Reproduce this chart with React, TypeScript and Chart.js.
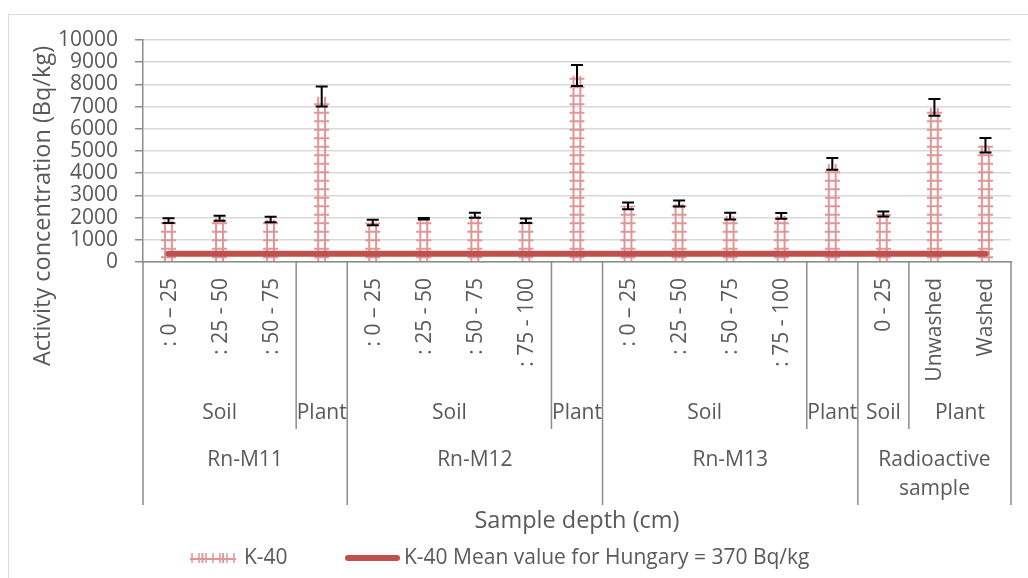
import React, { useEffect, useRef } from "react";
import { Chart, registerables } from "chart.js";

Chart.register(...registerables);

// ---- data ----
const categories = [
  ": 0 – 25", ": 25 - 50", ": 50 - 75", "",
  ": 0 – 25", ": 25 - 50", ": 50 - 75", ": 75 - 100", "",
  ": 0 – 25", ": 25 - 50", ": 50 - 75", ": 75 - 100", "",
  "0 - 25", "Unwashed", "Washed",
];
const k40Values = [1865, 1970, 1915, 7450, 1780, 1950, 2105, 1860, 8400, 2530, 2635, 2070, 2075, 4415, 2165, 6965, 5255];
const k40Errors = [110, 110, 120, 450, 120, 30, 110, 105, 470, 150, 135, 150, 130, 265, 110, 380, 325];
const hungaryMean = [370, 370, 370, 370, 370, 370, 370, 370, 370, 370, 370, 370, 370, 370, 370, 370, 370];
const typeLabels = ["Soil", "Plant", "Soil", "Plant", "Soil", "Plant", "Soil", "Plant"];
const typeSpans = [3, 1, 4, 1, 4, 1, 1, 2];
const siteLabels = [["Rn-M11"], ["Rn-M12"], ["Rn-M13"], ["Radioactive", "sample"]];
const siteSpans = [4, 5, 5, 3];
const yTickMin = 0;
const yTickMax = 10000;
const yTickStep = 1000;
const seriesName = "K-40";
const meanName = "K-40 Mean value for Hungary = 370 Bq/kg";
const xTitle = "Sample depth (cm)";
const yTitle = "Activity concentration (Bq/kg)";

const FONT = '"Open Sans", "Noto Sans", sans-serif';
const TEXT = "#595959";
const AXIS = "#8c8c8c";
const PATTERN = "#e09696";
const RED = "#c0504d";

function drawPatternRect(ctx: CanvasRenderingContext2D, left: number, top: number, w: number, bottom: number) {
  ctx.save();
  ctx.beginPath();
  ctx.rect(left, top, w, bottom - top);
  ctx.clip();
  ctx.strokeStyle = PATTERN;
  ctx.lineWidth = 2;
  ctx.beginPath();
  const v1 = left + w * 0.27;
  const v2 = left + w * 0.72;
  ctx.moveTo(v1, top); ctx.lineTo(v1, bottom);
  ctx.moveTo(v2, top); ctx.lineTo(v2, bottom);
  for (let y = bottom - 4; y > top; y -= 8.5) {
    ctx.moveTo(left, y); ctx.lineTo(left + w, y);
  }
  ctx.stroke();
  ctx.restore();
}

const customPlugin = {
  id: "custom",
  afterDatasetDraw(chart: any, args: any) {
    if (args.index !== 0) return;
    const ctx = chart.ctx as CanvasRenderingContext2D;
    const meta = chart.getDatasetMeta(0);
    meta.data.forEach((bar: any) => {
      const w = bar.width;
      drawPatternRect(ctx, bar.x - w / 2, bar.y, w, bar.base);
    });
  },
  afterDatasetsDraw(chart: any) {
    const ctx = chart.ctx as CanvasRenderingContext2D;
    const ys = chart.scales.y;
    const meta = chart.getDatasetMeta(0);
    ctx.save();
    ctx.strokeStyle = "#000";
    ctx.lineWidth = 2;
    meta.data.forEach((bar: any, i: number) => {
      const v = k40Values[i];
      const e = k40Errors[i];
      const yTop = ys.getPixelForValue(v + e);
      const yBot = ys.getPixelForValue(v - e);
      ctx.beginPath();
      ctx.moveTo(bar.x, yTop); ctx.lineTo(bar.x, yBot);
      ctx.moveTo(bar.x - 6, yTop); ctx.lineTo(bar.x + 6, yTop);
      ctx.moveTo(bar.x - 6, yBot); ctx.lineTo(bar.x + 6, yBot);
      ctx.stroke();
    });
    ctx.restore();
  },
  afterDraw(chart: any) {
    const ctx = chart.ctx as CanvasRenderingContext2D;
    const xs = chart.scales.x;
    const area = chart.chartArea;
    const n = categories.length;
    const boundary = (i: number) => {
      if (i <= 0) return xs.left;
      if (i >= n) return xs.right;
      return (xs.getPixelForValue(i - 1) + xs.getPixelForValue(i)) / 2;
    };
    const axisTop = area.bottom;
    const midBottom = 429;
    const fullBottom = 505;

    ctx.save();
    // chart border
    ctx.strokeStyle = "#d9d9d9";
    ctx.lineWidth = 1;
    ctx.beginPath();
    ctx.moveTo(8.5, 600); ctx.lineTo(8.5, 14.5); ctx.lineTo(1100, 14.5);
    ctx.stroke();

    // dividers
    ctx.strokeStyle = AXIS;
    ctx.lineWidth = 1.5;
    const siteBounds = new Set<number>();
    let acc = 0;
    siteBounds.add(0);
    siteSpans.forEach((s) => { acc += s; siteBounds.add(acc); });
    ctx.beginPath();
    siteBounds.forEach((b) => {
      const x = boundary(b);
      ctx.moveTo(x, axisTop); ctx.lineTo(x, fullBottom);
    });
    acc = 0;
    typeSpans.forEach((s) => {
      acc += s;
      if (!siteBounds.has(acc)) {
        const x = boundary(acc);
        ctx.moveTo(x, axisTop); ctx.lineTo(x, midBottom);
      }
    });
    ctx.stroke();

    ctx.fillStyle = TEXT;
    ctx.font = `21px ${FONT}`;
    // level 1: rotated category labels
    categories.forEach((lab, i) => {
      if (!lab) return;
      const x = xs.getPixelForValue(i);
      ctx.save();
      ctx.translate(x, 278);
      ctx.rotate(-Math.PI / 2);
      ctx.textAlign = "right";
      ctx.textBaseline = "middle";
      ctx.fillText(lab, 0, 1);
      ctx.restore();
    });
    // level 2
    ctx.textAlign = "center";
    ctx.textBaseline = "middle";
    acc = 0;
    typeSpans.forEach((s, k) => {
      const x = (boundary(acc) + boundary(acc + s)) / 2;
      ctx.fillText(typeLabels[k], x, 413);
      acc += s;
    });
    // level 3
    acc = 0;
    siteSpans.forEach((s, k) => {
      const x = (boundary(acc) + boundary(acc + s)) / 2;
      siteLabels[k].forEach((line, j) => ctx.fillText(line, x, 460 + j * 29));
      acc += s;
    });
    // axis titles
    ctx.font = `23.5px ${FONT}`;
    ctx.fillText(xTitle, (xs.left + xs.right) / 2, 521);
    ctx.save();
    ctx.translate(43, 206);
    ctx.rotate(-Math.PI / 2);
    ctx.fillText(yTitle, 0, 0);
    ctx.restore();

    // legend
    ctx.font = `21px ${FONT}`;
    const ly = 558;
    drawPatternRect(ctx, 190, ly - 5, 46, ly + 5);
    ctx.strokeStyle = PATTERN;
    ctx.lineWidth = 1.5;
    ctx.beginPath();
    for (let x = 192; x <= 236; x += 7) { ctx.moveTo(x, ly - 5); ctx.lineTo(x, ly + 5); }
    ctx.stroke();
    ctx.fillStyle = TEXT;
    ctx.textAlign = "left";
    ctx.fillText(seriesName, 244, ly);
    ctx.strokeStyle = RED;
    ctx.lineWidth = 6;
    ctx.lineCap = "round";
    ctx.beginPath();
    ctx.moveTo(348, ly); ctx.lineTo(397, ly);
    ctx.stroke();
    ctx.fillText(meanName, 404, ly);
    ctx.restore();
  },
};

export default function App() {
  const ref = useRef<HTMLCanvasElement | null>(null);
  useEffect(() => {
    if (!ref.current) return;
    const chart = new Chart(ref.current, {
      type: "bar",
      data: {
        labels: categories,
        datasets: [
          {
            type: "bar",
            label: seriesName,
            data: k40Values,
            backgroundColor: "rgba(0,0,0,0)",
            borderWidth: 0,
            barPercentage: 0.3,
            categoryPercentage: 1,
            order: 1,
          } as any,
          {
            type: "line",
            label: meanName,
            data: hungaryMean,
            borderColor: RED,
            borderWidth: 6,
            borderCapStyle: "round",
            pointRadius: 0,
            fill: false,
            order: 0,
          } as any,
        ],
      },
      options: {
        animation: false,
        responsive: false,
        maintainAspectRatio: false,
        layout: { padding: { top: 40, right: 17, left: 0, bottom: 0 } },
        plugins: { legend: { display: false }, tooltip: { enabled: false } },
        scales: {
          x: {
            ticks: { display: false },
            grid: { display: false },
            border: { display: true, color: AXIS, width: 1.5 },
            afterFit: (s: any) => { s.height = 578 - 262; },
          },
          y: {
            min: yTickMin,
            max: yTickMax,
            ticks: {
              stepSize: yTickStep,
              autoSkip: false,
              color: TEXT,
              font: { family: FONT, size: 21, lineHeight: 1 },
              padding: 17,
              callback: (v: any) => String(v),
            },
            grid: { color: "#d9d9d9", lineWidth: 1.5, tickColor: AXIS, tickLength: 8 },
            border: { display: true, color: AXIS, width: 1.5 },
            afterFit: (s: any) => { s.width = 143; },
          },
        },
      },
      plugins: [customPlugin],
    });
    return () => chart.destroy();
  }, []);
  return (
    <div style={{ position: "absolute", left: 0, top: 0, width: 1028, height: 578, background: "#fff" }}>
      <canvas ref={ref} width={1028} height={578} style={{ display: "block" }} />
    </div>
  );
}
